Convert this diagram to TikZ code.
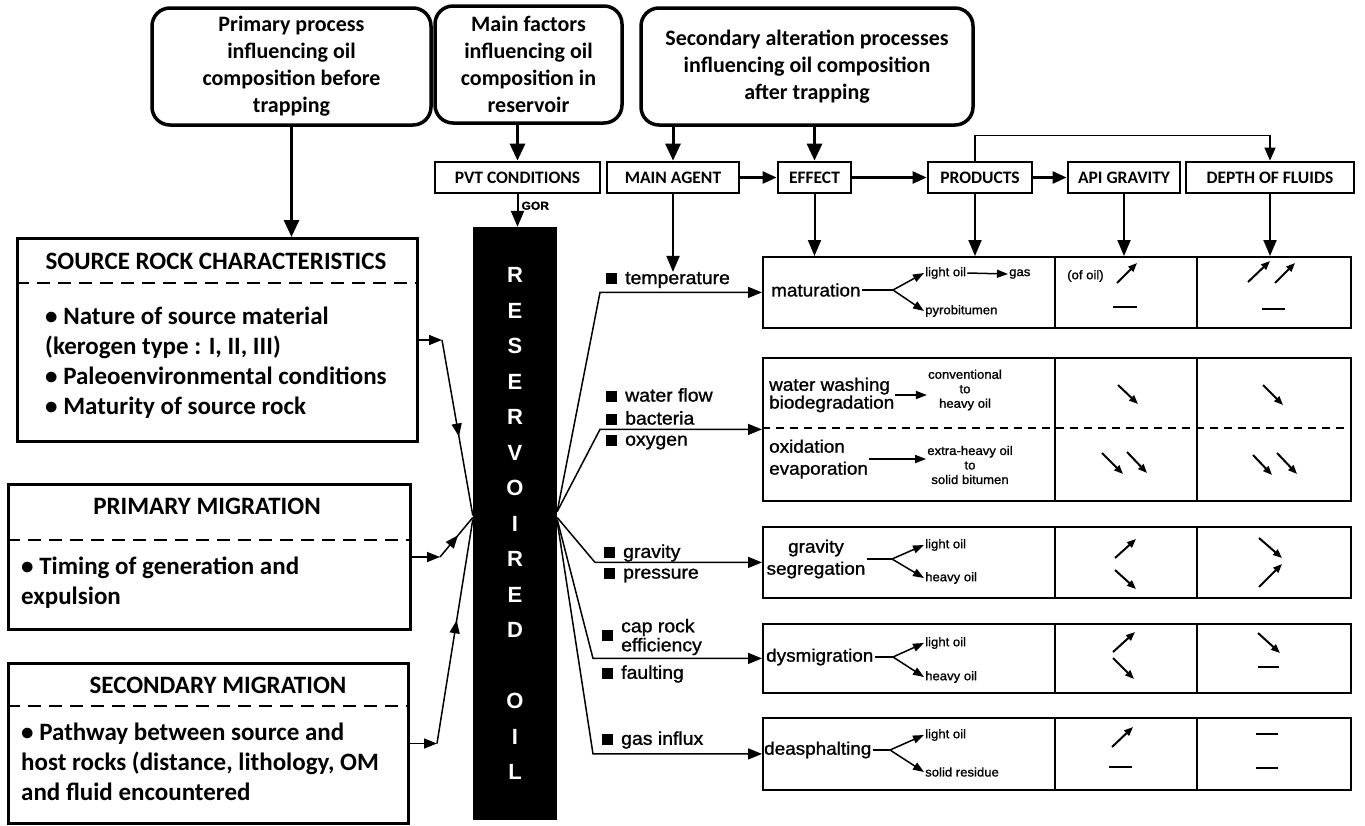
\documentclass[tikz,border=0pt]{standalone}
\usepackage{fontspec}
\setmainfont{Carlito}
\newfontfamily\scanfont[FakeStretch=1.05,FakeBold=1.2]{Liberation Sans}
\newfontfamily\barfont{Liberation Sans}
\usetikzlibrary{arrows.meta,decorations.markings,positioning}

\tikzstyle{topbox} = [draw, line width=3.5pt, rounded corners=18pt, align=center, minimum height=117pt, font=\fontsize{22}{27}\selectfont\bfseries]
\tikzstyle{headbox} = [draw, line width=2.8pt, minimum height=31pt, inner sep=1pt, font=\fontsize{17.5}{20}\selectfont\bfseries]
\tikzstyle{lbox} = [draw, line width=3pt, anchor=north west]
\tikzstyle{ltitle} = [font=\fontsize{25}{29}\selectfont\bfseries]
\tikzstyle{lbody} = [anchor=north west, align=left, inner sep=0pt, font=\fontsize{25}{30}\selectfont\bfseries]
\tikzstyle{ldash} = [line width=2.2pt, dash pattern=on 13pt off 8pt]
\tikzstyle{rowbox} = [draw, line width=1.8pt, minimum width=588pt]
\tikzstyle{eff} = [inner sep=1pt, font=\scanfont\fontsize{18}{22}\selectfont]
\tikzstyle{prod} = [inner sep=1pt, align=center, font=\scanfont\fontsize{12.5}{14.5}\selectfont]
\tikzstyle{lab} = [anchor=west, inner sep=0pt, font=\scanfont\fontsize{18.5}{19}\selectfont]
\tikzstyle{bigarrow} = [line width=3pt, -{Triangle[length=17pt,width=15pt]}]
\tikzstyle{harrow} = [line width=2.5pt, -{Triangle[length=14pt,width=12pt]}]
\tikzstyle{downarrow} = [line width=2pt, -{Triangle[length=16pt,width=13pt]}]
\tikzstyle{fanarrow} = [line width=1.5pt, -{Triangle[length=14pt,width=11pt]}]
\tikzstyle{brarrow} = [line width=1.5pt, -{Triangle[length=11pt,width=8pt]}]
\tikzstyle{smallarrow} = [line width=2pt, -{Triangle[length=9pt,width=7pt]}]
\tikzstyle{midarrow} = [line width=1.5pt, decoration={markings, mark=at position 0.55 with {\arrow{Triangle[length=13pt,width=10pt]}}}, postaction=decorate]
\newcommand{\sq}{\rule{11pt}{11pt}\hspace{8pt}}

\begin{document}
\begin{tikzpicture}[x=1pt,y=-1pt]
    \useasboundingbox (0,0) rectangle (1365,825);

    \node (prim0) [topbox, minimum width=279pt] at (291.5,66.5) {Primary process\\influencing oil\\composition before\\trapping};
    \node (fact0) [topbox, minimum width=187pt] at (528.5,64.5) {Main factors\\influencing oil\\composition in\\reservoir};
    \node (sec0) [topbox, minimum width=332pt] at (807,66.5) {Secondary alteration processes\\influencing oil composition\\after trapping};

    \node (pvt) [headbox, minimum width=165pt] at (517.5,177.5) {PVT CONDITIONS};
    \node (agent) [headbox, minimum width=132pt, right=4.2pt of pvt] {MAIN AGENT};
    \node (effect) [headbox, minimum width=73pt, right=36.2pt of agent] {EFFECT};
    \node (prod) [headbox, minimum width=104pt, right=74.2pt of effect] {PRODUCTS};
    \node (api) [headbox, minimum width=112pt, right=33.2pt of prod] {API GRAVITY};
    \node (depth) [headbox, minimum width=168pt, right=3.2pt of api] {DEPTH OF FLUIDS};

    \node (bar) [fill=black, minimum width=84pt, minimum height=593pt, inner sep=0pt, align=center, text=white,
        font=\barfont\bfseries\fontsize{22}{35.5}\selectfont] at (515,523.5)
        {R\\E\\S\\E\\R\\V\\O\\I\\R\\E\\D\\[35.5pt]O\\I\\L};

    % left side
    \node (src) [lbox, minimum width=400pt, minimum height=203pt] at (16,237) {};
    \node (srct) [ltitle] at (216,261) {SOURCE ROCK CHARACTERISTICS};
    \draw [ldash] (src.west |- 0,283) -- (src.east |- 0,283);
    \node (srcb) [lbody] at (45,307) {• Nature of source material\\(kerogen type : I, II, III)\\• Paleoenvironmental conditions\\• Maturity of source rock};

    \node (prim) [lbox, minimum width=402pt, minimum height=145pt] at (7,483) {};
    \node (primt) [ltitle] at (207,506) {PRIMARY MIGRATION};
    \draw [ldash] (prim.west |- 0,540) -- (prim.east |- 0,540);
    \node (primb) [lbody] at (21,557) {• Timing of generation and\\expulsion};

    \node (sec) [lbox, minimum width=400pt, minimum height=160pt] at (7,662) {};
    \node (sect) [ltitle] at (218,685) {SECONDARY MIGRATION};
    \draw [ldash] (sec.west |- 0,706) -- (sec.east |- 0,706);
    \node (secb) [lbody] at (21,723) {• Pathway between source and\\host rocks (distance, lithology, OM\\and fluid encountered};

    % table rows
    \node (r1) [rowbox, minimum height=71pt, anchor=north west] at (762,256) {};
    \node (r2) [rowbox, minimum height=143pt, below=28.2pt of r1] {};
    \node (r3) [rowbox, minimum height=71pt, below=24.2pt of r2] {};
    \node (r4) [rowbox, minimum height=69pt, below=24.2pt of r3] {};
    \node (r5) [rowbox, minimum height=72pt, below=23.2pt of r4] {};
    \foreach \r in {r1,r2,r3,r4,r5}
      \foreach \x in {1055,1197}
        \draw [line width=1.5pt] (\r.north -| \x,0) -- (\r.south -| \x,0);
    \draw [line width=1.5pt, dash pattern=on 8pt off 6pt] (r2.west |- 0,428) -- (r2.east |- 0,428);

    % agents
    \node (ltemp) [lab] at (606,280) {\sq temperature};
    \node (lwater) [lab] at (606,395) {\sq water flow};
    \node (lbact) [lab] at (606,418) {\sq bacteria};
    \node (loxy) [lab] at (606,442) {\sq oxygen};
    \node (lgrav) [lab] at (604,553) {\sq gravity};
    \node (lpres) [lab] at (604,575) {\sq pressure};
    \node (lcap) [lab] at (602,637) {\sq\parbox[c]{110pt}{\fontsize{18.5}{19}\selectfont cap rock\\efficiency}};
    \node (lfault) [lab] at (602,674) {\sq faulting};
    \node (lgas) [lab] at (602,740) {\sq gas influx};

    % effects and products
    \node (mat) [eff, anchor=west] at (770,290) {maturation};
    \node (lo1) [prod, anchor=west] at (924,273) {light oil};
    \node (gas) [prod, anchor=west] at (1008,274) {gas};
    \node (pyro) [prod, anchor=west] at (924,311) {pyrobitumen};
    \node (ofoil) [prod, anchor=west] at (1066,276) {(of oil)};

    \node (ww) [eff, anchor=west, align=left, font=\scanfont\fontsize{18}{16.5}\selectfont] at (768,395) {water washing\\biodegradation};
    \node (conv) [prod] at (965,390) {conventional\\to\\heavy oil};
    \node (ox) [eff, anchor=west, align=left] at (768,459) {oxidation\\evaporation};
    \node (xh) [prod] at (970,465) {extra-heavy oil\\to\\solid bitumen};

    \node (gs) [eff, align=center] at (816,559) {gravity\\segregation};
    \node (lo3) [prod, anchor=west] at (924,545) {light oil};
    \node (ho3) [prod, anchor=west] at (924,578) {heavy oil};

    \node (dys) [eff, anchor=west] at (765,657) {dysmigration};
    \node (lo4) [prod, anchor=west] at (924,643) {light oil};
    \node (ho4) [prod, anchor=west] at (924,677) {heavy oil};

    \node (deas) [eff, anchor=west] at (763,750) {deasphalting};
    \node (lo5) [prod, anchor=west] at (924,735) {light oil};
    \node (sr5) [prod, anchor=west] at (924,772) {solid residue};

    % arrows from the top
    \draw [bigarrow] (prim0.south) -- (prim0.south |- src.north);
    \draw [bigarrow] (fact0.south -| pvt.north) -- (pvt.north);
    \draw [bigarrow] (sec0.south -| agent.north) -- (agent.north);
    \draw [bigarrow] (sec0.south -| effect.north) -- (effect.north);

    \draw [harrow] (agent.east) -- (effect.west);
    \draw [harrow] (effect.east) -- (prod.west);
    \draw [harrow] (prod.east) -- (api.west);
    \draw [line width=1.5pt, -{Triangle[length=13pt,width=11pt]}] ([xshift=-5pt]prod.north) -- ++(0,-25) -| (depth.north);

    \draw [downarrow] (pvt.south) -- (pvt.south |- bar.north) node [pos=0.35, right=2pt, prod, font=\scanfont\bfseries\fontsize{11.5}{12}\selectfont] {GOR};
    \draw [downarrow] (agent.south) -- (agent.south |- ltemp.north);
    \draw [downarrow] (effect.south) -- (effect.south |- r1.north);
    \draw [downarrow] ([xshift=-5pt]prod.south) -- ([xshift=-5pt]prod.south |- r1.north);
    \draw [downarrow] (api.south) -- (api.south |- r1.north);
    \draw [downarrow] (depth.south) -- (depth.south |- r1.north);

    % into the reservoired oil
    \draw [line width=1.5pt, -{Triangle[length=13pt,width=10pt]}] (src.east) -- ++(23,0) coordinate (ks);
    \draw [midarrow] (ks) -- ([yshift=8pt]bar.west);
    \draw [line width=1.5pt, -{Triangle[length=13pt,width=10pt]}] (prim.east) -- ++(28,0) coordinate (kp);
    \draw [midarrow] (kp) -- ([yshift=6pt]bar.west);
    \draw [line width=1.5pt, -{Triangle[length=13pt,width=10pt]}] (sec.east) -- ++(27,0) coordinate (kc);
    \draw [midarrow] (kc) -- ([yshift=4pt]bar.west);

    % out of the reservoired oil
    \draw [fanarrow] ([yshift=12pt]bar.east) -- (r1.west -| 600,0) -- (r1.west);
    \draw [fanarrow] ([yshift=12pt]bar.east) -- (r2.west -| 600,0) -- (r2.west);
    \draw [fanarrow] ([yshift=6pt]bar.east) -- (r3.west -| 595,0) -- (r3.west);
    \draw [fanarrow] ([yshift=4pt]bar.east) -- (r4.west -| 593,0) -- (r4.west);
    \draw [fanarrow] ([yshift=2pt]bar.east) -- (r5.west -| 593,0) -- (r5.west);

    % branches
    \draw [line width=1.5pt] (mat.east) -- (mat.east -| 893,0) coordinate (b1);
    \draw [brarrow] (b1) -- (lo1.west);
    \draw [brarrow] (b1) -- (pyro.west);
    \draw [brarrow] (lo1.east) -- (gas.west);
    \draw [brarrow] (ww.east) -- (ww.east -| conv.west);
    \draw [brarrow] (ox.east) -- (ox.east -| xh.west);
    \draw [line width=1.5pt] (gs.east) -- (gs.east -| 892,0) coordinate (b3);
    \draw [brarrow] (b3) -- (lo3.west);
    \draw [brarrow] (b3) -- (ho3.west);
    \draw [line width=1.5pt] (dys.east) -- (dys.east -| 893,0) coordinate (b4);
    \draw [brarrow] (b4) -- (lo4.west);
    \draw [brarrow] (b4) -- (ho4.west);
    \draw [line width=1.5pt] (deas.east) -- (deas.east -| 890,0) coordinate (b5);
    \draw [brarrow] (b5) -- (lo5.west);
    \draw [brarrow] (b5) -- (sr5.west);

    % api gravity and depth
    \foreach \xa/\ya/\xb/\yb in {1117/283/1137/263, 1248/282/1270/261, 1275/283/1295/263,
        1118/385/1138/404, 1263/385/1283/405,
        1102/453/1123/474, 1127/452/1147/473, 1253/455/1272/475, 1277/453/1297/474,
        1115/558/1136/539, 1115/570/1136/589, 1259/538/1282/558, 1259/587/1282/564,
        1113/652/1135/632, 1113/658/1134/679, 1258/633/1280/653,
        1112/747/1133/727}
      \draw [smallarrow] (\xa,\ya) -- (\xb,\yb);
    \foreach \xa/\xb/\y in {1113/1137/307, 1262/1285/309, 1258/1279/667,
        1109/1132/767, 1256/1278/734, 1256/1278/768}
      \draw [line width=2pt] (\xa,\y) -- (\xb,\y);
\end{tikzpicture}
\end{document}
